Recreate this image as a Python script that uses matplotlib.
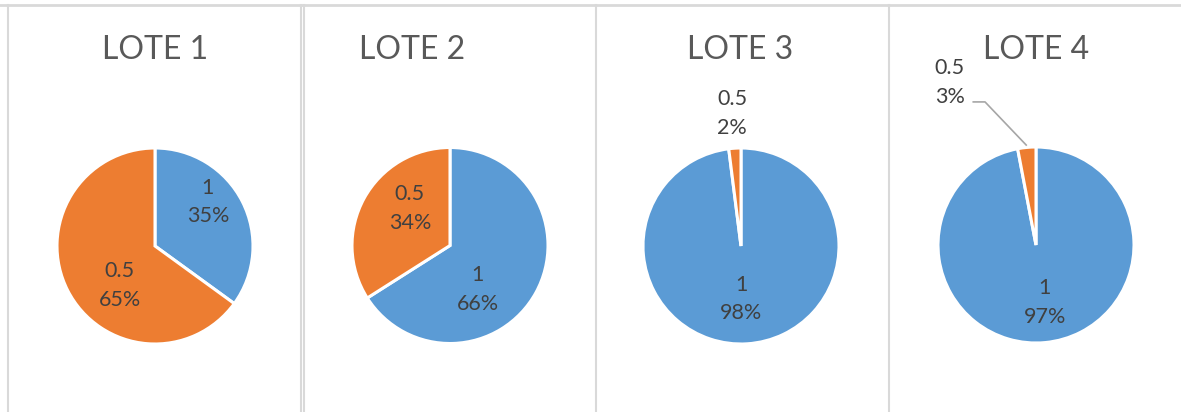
import numpy as np
import matplotlib
matplotlib.use("Agg")
import matplotlib.pyplot as plt
from matplotlib.lines import Line2D

# data
titles = ["LOTE 1", "LOTE 2", "LOTE 3", "LOTE 4"]
categories = ["1", "0.5"]
lote1 = [35, 65]
lote2 = [66, 34]
lote3 = [98, 2]
lote4 = [97, 3]
series = [lote1, lote2, lote3, lote4]

colors = ["#5B9BD5", "#ED7D31"]
plt.rcParams['font.family'] = ['Lato', 'DejaVu Sans']

W, H = 1181, 412
fig = plt.figure(figsize=(W / 100, H / 100), dpi=100)

# layout (pixels)
centers = [(155, 246), (450, 245.5), (741, 246), (1036, 245)]
title_pos = [(155, 50), (412, 50), (740, 50), (1036, 50)]
R = 98.0
R_ax = 150.0
# label block positions in pie radius units, per panel: (category 1, category 0.5)
label_pos = [
    [(0.54, 0.45), (-0.36, -0.40)],
    [(0.28, -0.45), (-0.41, 0.38)],
    [(0.0, -0.54), (-0.09, 1.35)],
    [(0.09, -0.59), (-0.88, 1.66)],
]

for i, vals in enumerate(series):
    cx, cy = centers[i]
    ax = fig.add_axes([(cx - R_ax) / W, (H - cy - R_ax) / H, 2 * R_ax / W, 2 * R_ax / H])
    ax.pie(vals, colors=colors, startangle=90, counterclock=False, radius=1,
           wedgeprops=dict(edgecolor="white", linewidth=2.2))
    lim = R_ax / R
    ax.set_xlim(-lim, lim)
    ax.set_ylim(-lim, lim)
    ax.set_aspect("equal")
    ax.axis("off")
    total = sum(vals)
    for j, v in enumerate(vals):
        lx, ly = label_pos[i][j]
        ax.text(lx, ly, "%s\n%d%%" % (categories[j], round(100 * v / total)),
                ha="center", va="center", fontsize=15.5, color="#404040",
                linespacing=1.55, clip_on=False)
    if i == 3:
        # leader line for small slice
        ax.plot([-0.64, -0.52, -0.10], [1.46, 1.46, 1.02], color="#A6A6A6",
                lw=1.2, clip_on=False)
    tx, ty = title_pos[i]
    fig.text(tx / W, 1 - ty / H, titles[i], ha="center", va="center",
             fontsize=23, color="#595959")

# panel borders
border = "#D9D9D9"
fig.add_artist(Line2D([0, 1], [1 - 5 / H, 1 - 5 / H], color=border, lw=2))
for x in [8, 301, 303.5, 596, 889]:
    fig.add_artist(Line2D([x / W, x / W], [0, 1 - 5 / H], color=border, lw=1.5))

fig.savefig("out.png", dpi=100)
